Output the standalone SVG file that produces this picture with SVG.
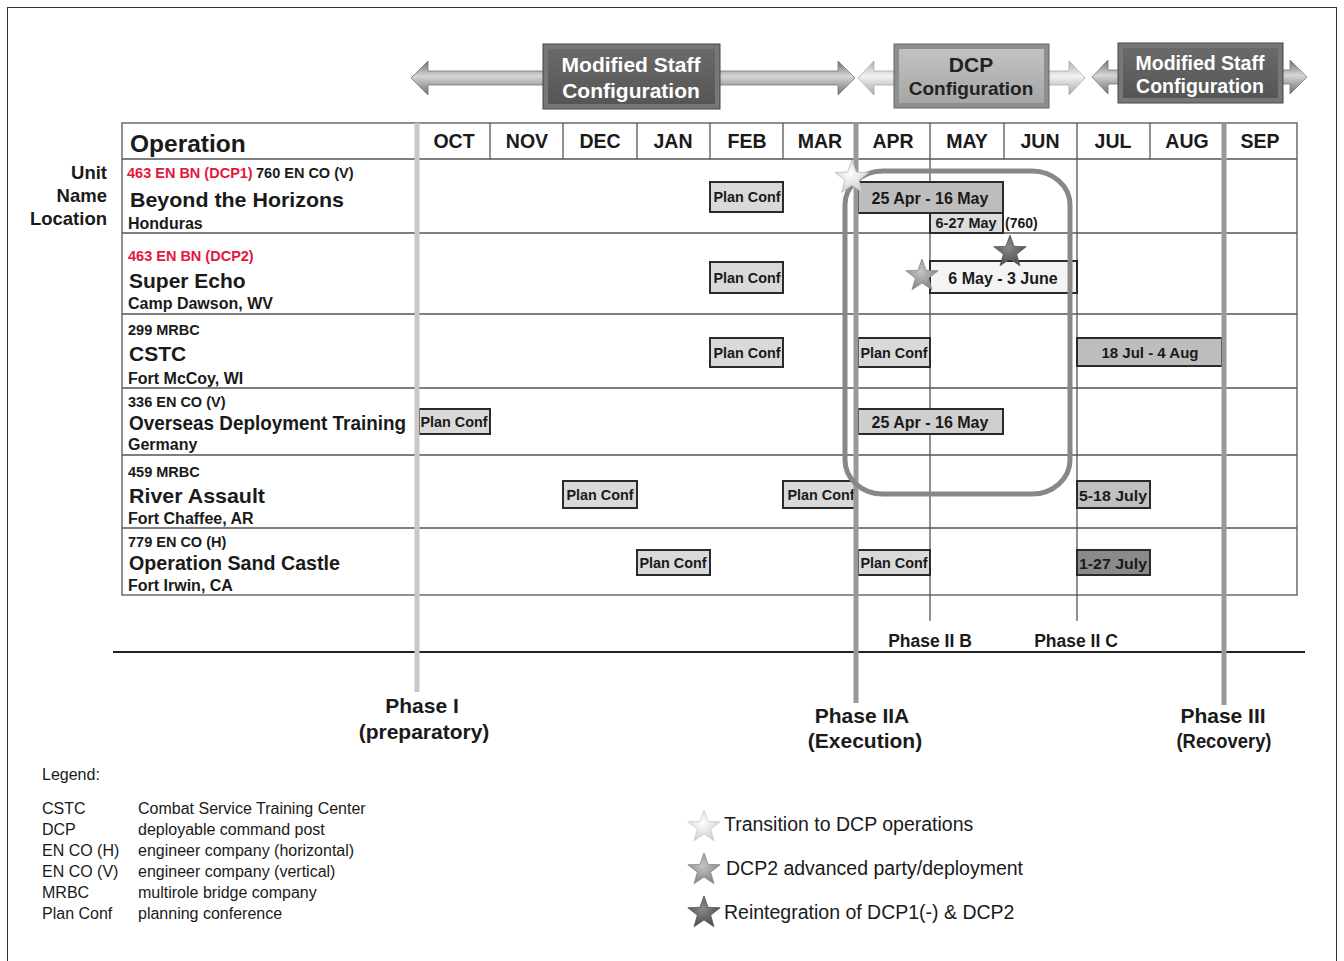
<svg xmlns="http://www.w3.org/2000/svg" width="1344" height="961" viewBox="0 0 1344 961">
<defs>
<style>
text{font-family:"Liberation Sans",Arial,Helvetica,sans-serif;fill:#1a1a1a}
.b{font-weight:bold}
.grid{stroke:#555;stroke-width:1.3;fill:none}
.box{stroke:#2a2a2a;stroke-width:2}
.pc{fill:#d9d9d9}
.bt{font-weight:bold;font-size:14.4px;text-anchor:middle}
.dt{font-weight:bold;font-size:16px;text-anchor:middle}
.mon{font-weight:bold;font-size:19.5px;text-anchor:middle}
.unit{font-weight:bold;font-size:14.5px}
.red{fill:#e3183c}
.name{font-weight:bold;font-size:21px}
.loc{font-weight:bold;font-size:16px}
.side{font-weight:bold;font-size:18.5px;text-anchor:end}
.ph{font-weight:bold;font-size:21px;text-anchor:middle}
.phs{font-weight:bold;font-size:17.5px;text-anchor:middle}
.leg{font-size:16px}
.sleg{font-size:19.5px}
.wt{fill:#fff;font-weight:bold;text-anchor:middle}
.dk{fill:#222;font-weight:bold;text-anchor:middle}
</style>
<linearGradient id="shaftD" x1="0" y1="0" x2="0" y2="1">
<stop offset="0" stop-color="#6e6e6e"/><stop offset="0.45" stop-color="#d6d6d6"/><stop offset="1" stop-color="#707070"/>
</linearGradient>
<linearGradient id="shaftL" x1="0" y1="0" x2="0" y2="1">
<stop offset="0" stop-color="#b0b0b0"/><stop offset="0.45" stop-color="#f2f2f2"/><stop offset="1" stop-color="#a8a8a8"/>
</linearGradient>
<linearGradient id="boxD" x1="0" y1="0" x2="0" y2="1">
<stop offset="0" stop-color="#6a6a6a"/><stop offset="1" stop-color="#555"/>
</linearGradient>
<linearGradient id="boxL" x1="0" y1="0" x2="0" y2="1">
<stop offset="0" stop-color="#c2c2c2"/><stop offset="1" stop-color="#a6a6a6"/>
</linearGradient>
<radialGradient id="starW" cx="0.45" cy="0.4" r="0.7">
<stop offset="0" stop-color="#ffffff"/><stop offset="1" stop-color="#c8c8c8"/>
</radialGradient>
<radialGradient id="starM" cx="0.45" cy="0.4" r="0.7">
<stop offset="0" stop-color="#c4c4c4"/><stop offset="1" stop-color="#7a7a7a"/>
</radialGradient>
<radialGradient id="starK" cx="0.45" cy="0.4" r="0.7">
<stop offset="0" stop-color="#8a8a8a"/><stop offset="1" stop-color="#444"/>
</radialGradient>
<path id="star" d="M0,-17 L4.11,-5.66 L16.17,-5.25 L6.66,2.16 L9.99,13.75 L0,7 L-9.99,13.75 L-6.66,2.16 L-16.17,-5.25 L-4.11,-5.66 Z"/>
</defs>

<rect x="0" y="0" width="1344" height="961" fill="#fff"/>
<rect x="7.5" y="7.5" width="1329" height="970" fill="none" stroke="#333" stroke-width="1"/>

<!-- top configuration arrows -->
<g id="connectors">
<polygon points="411,78 428,61 428,71 838,71 838,61 855,78 838,95 838,85 428,85 428,95" fill="url(#shaftD)" stroke="#777" stroke-width="0.8"/>
<polygon points="858,78 874,61 874,71 1069,71 1069,61 1085,78 1069,95 1069,85 874,85 874,95" fill="url(#shaftL)" stroke="#aaa" stroke-width="0.8"/>
<polygon points="1092,77 1108,60 1108,70 1290,70 1290,60 1307,77 1290,94 1290,84 1108,84 1108,94" fill="url(#shaftD)" stroke="#777" stroke-width="0.8"/>
</g>

<g id="cfg-modified-1">
<rect x="543" y="44" width="177" height="65" fill="#777" stroke="#444" stroke-width="1"/>
<rect x="548" y="49" width="167" height="55" fill="url(#boxD)"/>
<text class="wt" x="631" y="72" font-size="21">Modified Staff</text>
<text class="wt" x="631" y="98" font-size="21">Configuration</text>
</g>
<g id="cfg-dcp">
<rect x="894" y="44" width="155" height="64" fill="#8e8e8e" stroke="#666" stroke-width="1"/>
<rect x="899" y="49" width="145" height="54" fill="url(#boxL)"/>
<text class="dk" x="971" y="72" font-size="21">DCP</text>
<text class="dk" x="971" y="95" font-size="19">Configuration</text>
</g>
<g id="cfg-modified-2">
<rect x="1118" y="43" width="165" height="60" fill="#777" stroke="#444" stroke-width="1"/>
<rect x="1123" y="48" width="155" height="50" fill="url(#boxD)"/>
<text class="wt" x="1200" y="70" font-size="19.5">Modified Staff</text>
<text class="wt" x="1200" y="93" font-size="19.5">Configuration</text>
</g>

<!-- side labels -->
<g id="side-labels">
<text class="side" x="107" y="179">Unit</text>
<text class="side" x="107" y="202">Name</text>
<text class="side" x="107" y="225">Location</text>
</g>

<!-- table grid -->
<g id="table">
<rect x="122" y="123" width="1175" height="472" class="grid"/>
<line class="grid" x1="122" y1="159" x2="1297" y2="159"/>
<line class="grid" x1="122" y1="233" x2="1297" y2="233"/>
<line class="grid" x1="122" y1="314" x2="1297" y2="314"/>
<line class="grid" x1="122" y1="388" x2="1297" y2="388"/>
<line class="grid" x1="122" y1="455" x2="1297" y2="455"/>
<line class="grid" x1="122" y1="528" x2="1297" y2="528"/>
<line class="grid" x1="490" y1="123" x2="490" y2="159"/>
<line class="grid" x1="563" y1="123" x2="563" y2="159"/>
<line class="grid" x1="637" y1="123" x2="637" y2="159"/>
<line class="grid" x1="710" y1="123" x2="710" y2="159"/>
<line class="grid" x1="783" y1="123" x2="783" y2="159"/>
<line class="grid" x1="1004" y1="123" x2="1004" y2="159"/>
<line class="grid" x1="1150" y1="123" x2="1150" y2="159"/>
<line class="grid" x1="930" y1="123" x2="930" y2="621"/>
<line class="grid" x1="1077" y1="123" x2="1077" y2="621"/>
<text class="b" x="130" y="152" font-size="24.5">Operation</text>
<text class="mon" x="454" y="148">OCT</text>
<text class="mon" x="527" y="148">NOV</text>
<text class="mon" x="600" y="148">DEC</text>
<text class="mon" x="673" y="148">JAN</text>
<text class="mon" x="747" y="148">FEB</text>
<text class="mon" x="820" y="148">MAR</text>
<text class="mon" x="893" y="148">APR</text>
<text class="mon" x="967" y="148">MAY</text>
<text class="mon" x="1040" y="148">JUN</text>
<text class="mon" x="1113" y="148">JUL</text>
<text class="mon" x="1187" y="148">AUG</text>
<text class="mon" x="1260" y="148">SEP</text>
</g>

<!-- rows -->
<g id="row-beyond">
<text class="unit red" x="127" y="178">463 EN BN (DCP1)</text>
<text class="unit" x="256" y="178">760 EN CO (V)</text>
<text class="name" x="130" y="207" textLength="214" lengthAdjust="spacingAndGlyphs">Beyond the Horizons</text>
<text class="loc" x="128" y="229">Honduras</text>
<rect class="box pc" x="710" y="182" width="73" height="30"/>
<text class="bt" x="747" y="202">Plan Conf</text>
<rect class="box" x="858" y="182" width="145" height="31" fill="#bdbdbd"/>
<text class="dt" x="930" y="204">25 Apr - 16 May</text>
<rect class="box" x="930" y="213" width="73" height="20" fill="#dcdcdc"/>
<text class="bt" x="966" y="228">6-27 May</text>
<text class="b" x="1005" y="228" font-size="14">(760)</text>
</g>
<g id="row-super-echo">
<text class="unit red" x="128" y="261">463 EN BN (DCP2)</text>
<text class="name" x="129" y="288">Super Echo</text>
<text class="loc" x="128" y="309">Camp Dawson, WV</text>
<rect class="box pc" x="710" y="262" width="73" height="31"/>
<text class="bt" x="747" y="283">Plan Conf</text>
<rect class="box" x="930" y="261" width="147" height="32" fill="#f4f4f4"/>
<text class="dt" x="1003" y="284">6 May - 3 June</text>
</g>
<g id="row-cstc">
<text class="unit" x="128" y="335">299 MRBC</text>
<text class="name" x="129" y="361">CSTC</text>
<text class="loc" x="128" y="384">Fort McCoy, WI</text>
<rect class="box pc" x="710" y="338" width="73" height="29"/>
<text class="bt" x="747" y="358">Plan Conf</text>
<rect class="box pc" x="858" y="338" width="72" height="29"/>
<text class="bt" x="894" y="358">Plan Conf</text>
<rect class="box" x="1077" y="338" width="145" height="28" fill="#bdbdbd"/>
<text x="1150" y="358" font-size="15" font-weight="bold" text-anchor="middle" fill="#2a2a2a">18 Jul - 4 Aug</text>
</g>
<g id="row-overseas">
<text class="unit" x="128" y="407">336 EN CO (V)</text>
<text class="name" x="129" y="430" font-size="20" textLength="277" lengthAdjust="spacingAndGlyphs">Overseas Deployment Training</text>
<text class="loc" x="128" y="450">Germany</text>
<rect class="box pc" x="419" y="409" width="71" height="25"/>
<text class="bt" x="454" y="427">Plan Conf</text>
<rect class="box" x="858" y="409" width="145" height="25" fill="#cfcfcf"/>
<text class="dt" x="930" y="428">25 Apr - 16 May</text>
</g>
<g id="row-river">
<text class="unit" x="128" y="477">459 MRBC</text>
<text class="name" x="129" y="503" textLength="136" lengthAdjust="spacingAndGlyphs">River Assault</text>
<text class="loc" x="128" y="524">Fort Chaffee, AR</text>
<rect class="box pc" x="563" y="481" width="74" height="27"/>
<text class="bt" x="600" y="500">Plan Conf</text>
<rect class="box pc" x="783" y="481" width="74" height="27"/>
<text class="bt" x="821" y="500">Plan Conf</text>
<rect class="box" x="1077" y="481" width="73" height="27" fill="#c0c0c0"/>
<text class="bt" x="1113" y="501" font-size="16" textLength="68" lengthAdjust="spacingAndGlyphs">5-18 July</text>
</g>
<g id="row-sandcastle">
<text class="unit" x="128" y="547">779 EN CO (H)</text>
<text class="name" x="129" y="570" font-size="20.5" textLength="211" lengthAdjust="spacingAndGlyphs">Operation Sand Castle</text>
<text class="loc" x="128" y="591">Fort Irwin, CA</text>
<rect class="box pc" x="637" y="550" width="73" height="25"/>
<text class="bt" x="673" y="568">Plan Conf</text>
<rect class="box pc" x="858" y="550" width="72" height="25"/>
<text class="bt" x="894" y="568">Plan Conf</text>
<rect class="box" x="1077" y="550" width="73" height="25" fill="#8a8a8a"/>
<text class="bt" x="1113" y="569" font-size="16" textLength="68" lengthAdjust="spacingAndGlyphs">1-27 July</text>
</g>

<!-- phase lines -->
<g id="phases">
<line x1="113" y1="652" x2="1305" y2="652" stroke="#222" stroke-width="1.8"/>
<line x1="417" y1="123" x2="417" y2="692" stroke="#c8c8c8" stroke-width="5"/>
<line x1="856" y1="123" x2="856" y2="703" stroke="#999" stroke-width="5"/>
<line x1="1224" y1="124" x2="1224" y2="705" stroke="#999" stroke-width="5"/>
<text class="ph" x="422" y="713">Phase I</text>
<text class="ph" x="424" y="739">(preparatory)</text>
<text class="ph" x="862" y="723">Phase IIA</text>
<text class="ph" x="865" y="748">(Execution)</text>
<text class="ph" x="1223" y="723">Phase III</text>
<text class="ph" x="1224" y="748" font-size="19" textLength="95" lengthAdjust="spacingAndGlyphs">(Recovery)</text>
<text class="phs" x="930" y="647">Phase II B</text>
<text class="phs" x="1076" y="647">Phase II C</text>
</g>

<!-- DCP window -->
<g id="dcp-window">
<rect x="845" y="171" width="225" height="323" rx="38" ry="34" fill="none" stroke="#888" stroke-width="5"/>
</g>

<!-- stars -->
<g id="stars">
<use href="#star" transform="translate(852,178) scale(1.05)" fill="url(#starW)" stroke="#bbb" stroke-width="0.8"/>
<use href="#star" transform="translate(922,276)" fill="url(#starM)" stroke="#888" stroke-width="0.8"/>
<use href="#star" transform="translate(1010,252)" fill="url(#starK)" stroke="#555" stroke-width="0.8"/>
</g>

<!-- legend -->
<g id="legend">
<text class="leg" x="42" y="780" font-size="15">Legend:</text>
<text class="leg" x="42" y="814">CSTC</text><text class="leg" x="138" y="814">Combat Service Training Center</text>
<text class="leg" x="42" y="835">DCP</text><text class="leg" x="138" y="835">deployable command post</text>
<text class="leg" x="42" y="856">EN CO (H)</text><text class="leg" x="138" y="856">engineer company (horizontal)</text>
<text class="leg" x="42" y="877">EN CO (V)</text><text class="leg" x="138" y="877">engineer company (vertical)</text>
<text class="leg" x="42" y="898">MRBC</text><text class="leg" x="138" y="898">multirole bridge company</text>
<text class="leg" x="42" y="919">Plan Conf</text><text class="leg" x="138" y="919">planning conference</text>
</g>
<g id="star-legend">
<use href="#star" transform="translate(704,827)" fill="url(#starW)" stroke="#ccc" stroke-width="0.8"/>
<text class="sleg" x="724" y="831">Transition to DCP operations</text>
<use href="#star" transform="translate(704,870)" fill="url(#starM)" stroke="#888" stroke-width="0.8"/>
<text class="sleg" x="726" y="875">DCP2 advanced party/deployment</text>
<use href="#star" transform="translate(704,913)" fill="url(#starK)" stroke="#555" stroke-width="0.8"/>
<text class="sleg" x="724" y="919">Reintegration of DCP1(-) &amp; DCP2</text>
</g>
</svg>
